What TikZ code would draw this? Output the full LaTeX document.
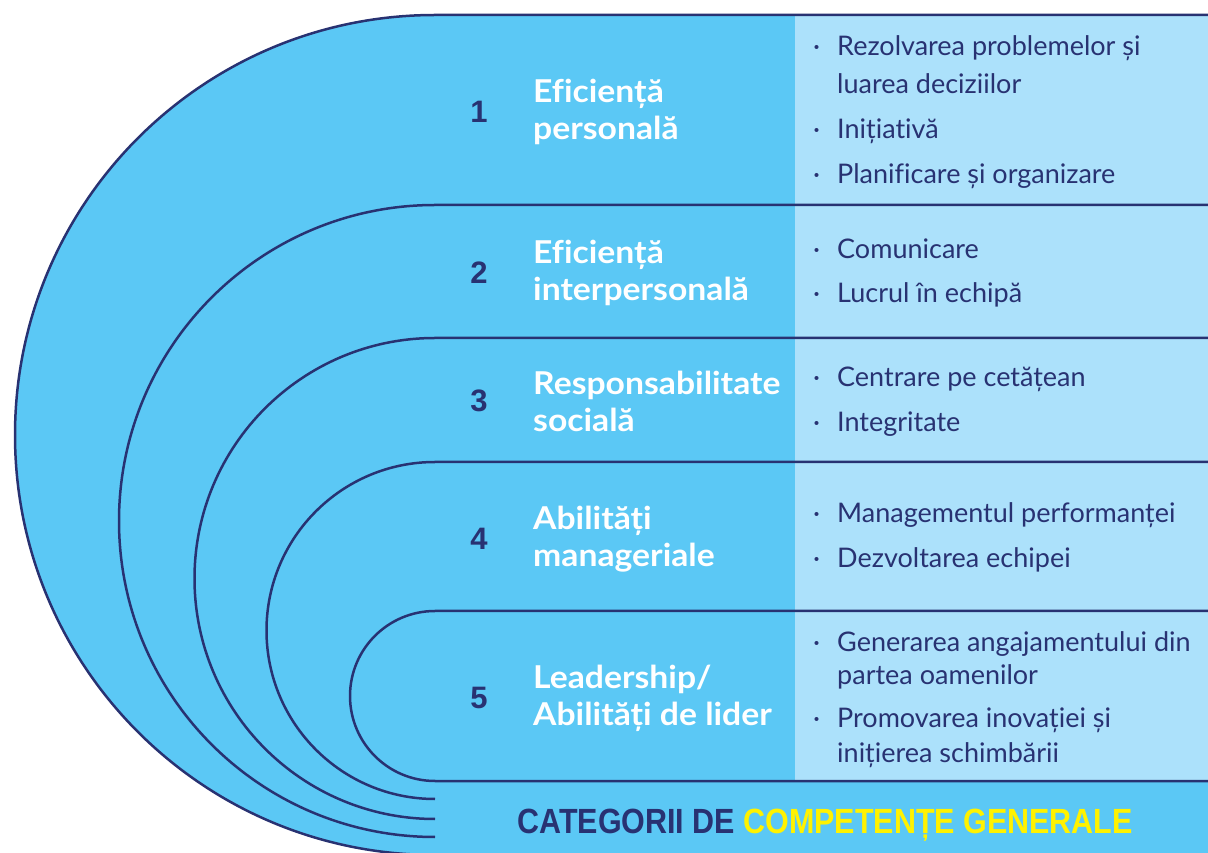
\documentclass[tikz,border=0pt]{standalone}
\usepackage{fontspec}
\usepackage{graphicx}
\setmainfont{Lato}[Ligatures=NoCommon]
\newfontfamily\titlefont{Lato}[Ligatures=NoCommon, FakeStretch=1.07]
\newfontfamily\headfont{Liberation Sans}
\definecolor{bandblue}{HTML}{5BC8F5}
\definecolor{panelblue}{HTML}{ACE1FB}
\definecolor{navy}{HTML}{283272}
\definecolor{signyellow}{HTML}{FFF200}
\newcommand{\bul}{\makebox[24pt][l]{·}}

\begin{document}
\begin{tikzpicture}[x=1pt, y=1pt,
  edge/.style={draw=navy, line width=2.5pt},
  num/.style={font=\headfont\bfseries\fontsize{31}{31}\selectfont, text=navy, inner sep=0pt},
  title/.style={font=\titlefont\bfseries\fontsize{31.5}{37}\selectfont, text=white, align=left, anchor=west, inner sep=0pt},
  itm/.style={font=\fontsize{27}{27}\selectfont, text=navy, anchor=base west, inner sep=0pt},
  head/.style={font=\headfont\bfseries\fontsize{35}{35}\selectfont, text=navy, anchor=base, inner sep=0pt}]
  \useasboundingbox (0,0) rectangle (1208,852);
  \clip (0,0) rectangle (1208,852);

  % bands and right panel
  \fill[bandblue] (1208,837) -- (435,837) arc[start angle=90, end angle=270, radius=420pt] -- (1208,-3) -- cycle;
  \fill[panelblue] (795,71) rectangle (1208,837);
  \foreach \y/\r in {837/420, 647/316, 514/240.5, 390/168.5}
    \draw[edge] (1208,\y) -- (435,\y) arc[start angle=90, end angle=270, radius=\r pt];
  \draw[edge] (1208,241) -- (435,241) arc[start angle=90, end angle=270, radius=85pt] -- (1208,71);

  % numbers and titles
  \node[num] (n1) at (479,740) {1};
  \node[num] (n2) at (479,579) {2};
  \node[num] (n3) at (479,451) {3};
  \node[num] (n4) at (479,313) {4};
  \node[num] (n5) at (479,154) {5};
  \node[title] (t1) at (533,740) {Eficiență\\personală};
  \node[title] (t2) at (533,579) {Eficiență\\interpersonală};
  \node[title] (t3) at (533,451) {Responsabilitate\\socială};
  \node[title] (t4) at (533,313) {Abilități\\manageriale};
  \node[title] (t5) at (533,154) {Leadership/\\Abilități de lider};

  % competences
  \node[itm] (b1a) at (813,796) {\bul Rezolvarea problemelor și};
  \node[itm] (b1b) at (837,758) {luarea deciziilor};
  \node[itm] (b1c) at (813,713) {\bul Inițiativă};
  \node[itm] (b1d) at (813,668) {\bul Planificare și organizare};
  \node[itm] (b2a) at (813,593) {\bul Comunicare};
  \node[itm] (b2b) at (813,549) {\bul Lucrul în echipă};
  \node[itm] (b3a) at (813,465) {\bul Centrare pe cetățean};
  \node[itm] (b3b) at (813,420) {\bul Integritate};
  \node[itm] (b4a) at (813,329) {\bul Managementul performanței};
  \node[itm] (b4b) at (813,284) {\bul Dezvoltarea echipei};
  \node[itm] (b5a) at (813,200) {\bul Generarea angajamentului din};
  \node[itm] (b5b) at (837,167) {partea oamenilor};
  \node[itm] (b5c) at (813,124) {\bul Promovarea inovației și};
  \node[itm] (b5d) at (837,89) {inițierea schimbării};

  \node[head] (hd) at (825,19) {\scalebox{0.87}[1]{CATEGORII DE \textcolor{signyellow}{COMPETENȚE GENERALE}}};
\end{tikzpicture}
\end{document}
